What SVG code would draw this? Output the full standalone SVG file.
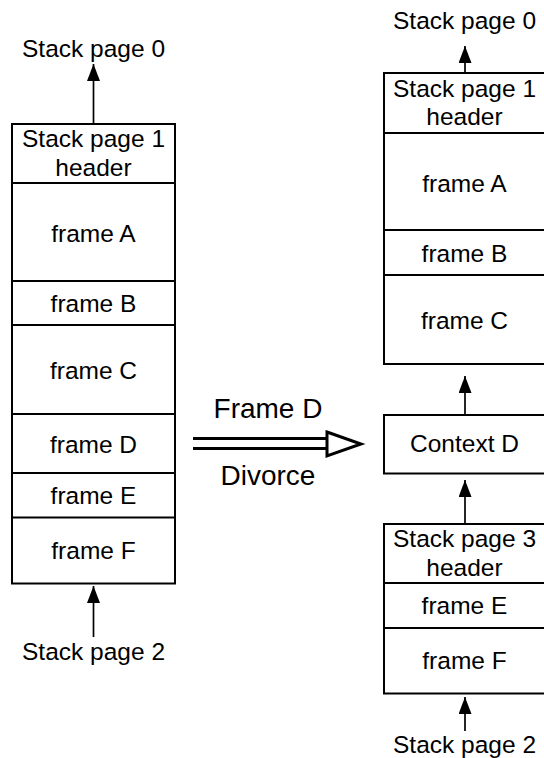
<svg xmlns="http://www.w3.org/2000/svg" width="544" height="758" viewBox="0 0 544 758">
<defs>
<style>
text{font-family:"Liberation Sans",Arial,Helvetica,sans-serif;font-size:24.5px;fill:#000;text-anchor:middle}
.box{fill:#fff;stroke:#000;stroke-width:2}
.div{stroke:#000;stroke-width:2}
.conn{stroke:#000;stroke-width:1.7;fill:none;marker-end:url(#ah)}
.big{font-size:28px}
</style>
<marker id="ah" markerUnits="userSpaceOnUse" markerWidth="17" markerHeight="13" refX="17" refY="6.5" orient="auto" viewBox="0 0 17 13">
<path d="M0,0 L17,6.5 L0,13 Z" fill="#000"/>
</marker>
</defs>
<rect width="544" height="758" fill="#fff"/>

<g id="left-stack">
<rect class="box" x="12" y="124" width="163" height="459.5"/>
<line class="div" x1="12" y1="183" x2="175" y2="183"/>
<line class="div" x1="12" y1="281" x2="175" y2="281"/>
<line class="div" x1="12" y1="325" x2="175" y2="325"/>
<line class="div" x1="12" y1="414" x2="175" y2="414"/>
<line class="div" x1="12" y1="473" x2="175" y2="473"/>
<line class="div" x1="12" y1="517.5" x2="175" y2="517.5"/>
<text x="93.5" y="147.3">Stack page 1</text>
<text x="93.5" y="176">header</text>
<text x="93.5" y="241.7">frame A</text>
<text x="93.5" y="311.5">frame B</text>
<text x="93.5" y="379">frame C</text>
<text x="93.5" y="452.7">frame D</text>
<text x="93.5" y="503.5">frame E</text>
<text x="93.5" y="559">frame F</text>
</g>

<g id="left-page0"><text x="93.5" y="57.3">Stack page 0</text></g>
<g id="left-page2"><text x="93.5" y="660">Stack page 2</text></g>

<g id="right-stack1">
<rect class="box" x="384" y="73" width="163" height="291"/>
<line class="div" x1="384" y1="133" x2="547" y2="133"/>
<line class="div" x1="384" y1="230" x2="547" y2="230"/>
<line class="div" x1="384" y1="275" x2="547" y2="275"/>
<text x="464.5" y="96.5">Stack page 1</text>
<text x="464.5" y="125">header</text>
<text x="464.5" y="191.7">frame A</text>
<text x="464.5" y="261.7">frame B</text>
<text x="464.5" y="329.3">frame C</text>
</g>

<g id="context-d">
<rect class="box" x="384" y="415" width="163" height="58.5"/>
<text x="464.5" y="451.7">Context D</text>
</g>

<g id="right-stack3">
<rect class="box" x="384" y="524" width="163" height="169.5"/>
<line class="div" x1="384" y1="583" x2="547" y2="583"/>
<line class="div" x1="384" y1="628" x2="547" y2="628"/>
<text x="464.5" y="547">Stack page 3</text>
<text x="464.5" y="575.5">header</text>
<text x="464.5" y="614">frame E</text>
<text x="464.5" y="669.3">frame F</text>
</g>

<g id="right-page0"><text x="464.5" y="28.5">Stack page 0</text></g>
<g id="right-page2"><text x="464.5" y="753">Stack page 2</text></g>

<g id="divorce-arrow">
<line x1="193" y1="438.5" x2="327" y2="438.5" stroke="#000" stroke-width="3"/>
<line x1="193" y1="448.5" x2="327" y2="448.5" stroke="#000" stroke-width="3"/>
<path d="M327,432 L361,444 L327,456 Z" fill="#fff" stroke="#000" stroke-width="3"/>
<text class="big" x="268" y="418">Frame D</text>
<text class="big" x="268" y="485">Divorce</text>
</g>

<g id="connectors">
<line class="conn" x1="93.5" y1="124" x2="93.5" y2="64"/>
<line class="conn" x1="93.5" y1="637" x2="93.5" y2="586"/>
<line class="conn" x1="465" y1="73" x2="465" y2="46"/>
<line class="conn" x1="465" y1="415" x2="465" y2="376"/>
<line class="conn" x1="465" y1="524" x2="465" y2="480"/>
<line class="conn" x1="465" y1="731" x2="465" y2="697"/>
</g>
</svg>
